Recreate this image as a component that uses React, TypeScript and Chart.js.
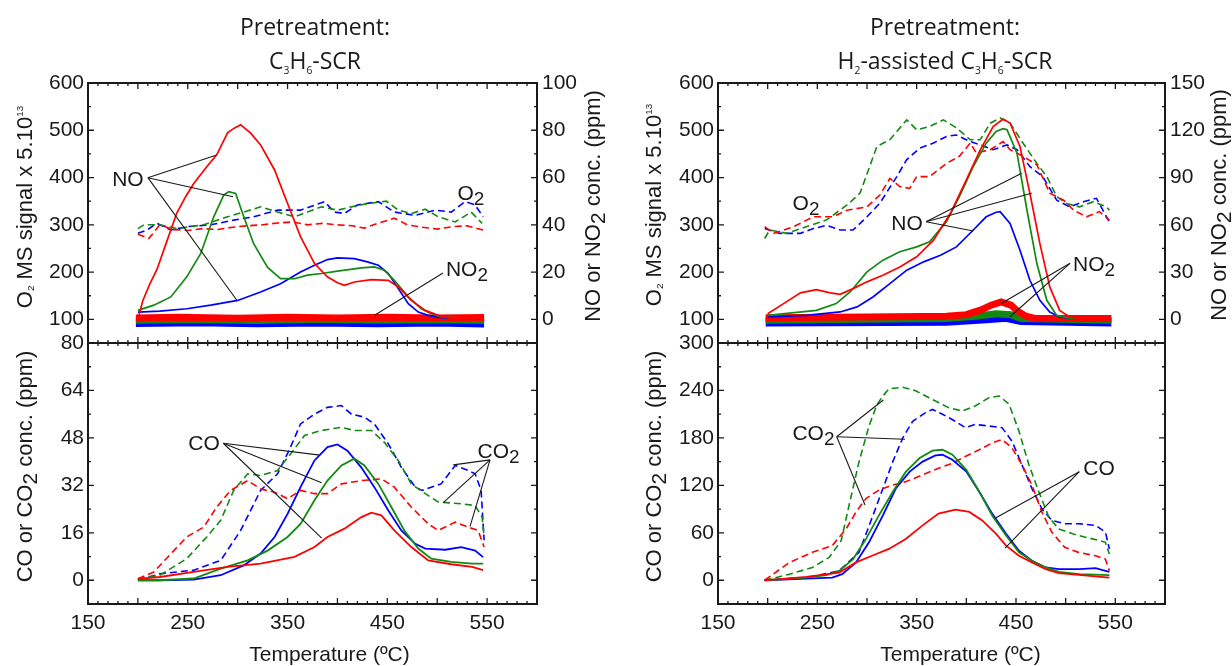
import { useEffect, useRef } from 'react';
import { Chart, registerables } from 'chart.js';

Chart.register(...registerables);

type Pts = [number, number][];
type Seg = [string, number, number];

// ---------------- axes ----------------
const X_MIN = 150;
const X_MAX = 600;
const X_TICKS = [150, 250, 350, 450, 550];
const O2_TICKS = [100, 200, 300, 400, 500, 600];
const A_NOX_TICKS = [0, 20, 40, 60, 80, 100];
const B_NOX_TICKS = [0, 30, 60, 90, 120, 150];
const A_CO_TICKS = [0, 16, 32, 48, 64, 80];
const B_CO_TICKS = [0, 60, 120, 180, 240, 300];

// ---------------- data: C3H6-SCR (left) ----------------
// NO / NO2 in ppm (right axis), O2 MS signal (left axis), temperature in ºC
const A_NO_RED: Pts = [[200,0],[205,8],[212,15],[219,21],[229,33],[239,45],[248,52],[256,57.5],[269,64.6],[279,69.6],[290,79],[297,81],[303,82.3],[313,78.8],[323,73.8],[337,63.2],[350,49],[363,35],[377,23.6],[390,18],[400,15.5],[407,14.4],[417,15.8],[434,16.8],[451,16.5],[461,13.7],[474,8],[488,3.8],[501,1.7],[512,0.5],[546,0.3]];
const A_NO_GREEN: Pts = [[200,3.8],[216,6],[233,9.5],[249,18],[263,27.9],[276,43.4],[286,52.6],[291,54],[298,53.3],[305,44.8],[316,32],[330,22],[343,17.2],[357,17.2],[370,18.7],[384,19.4],[400,20.4],[424,21.8],[437,22.2],[447,20.8],[457,16.5],[471,9.5],[484,4.5],[494,2.4],[505,0.8],[546,0.3]];
const A_NO_BLUE: Pts = [[200,3.1],[222,3.5],[249,4.5],[273,6],[300,8],[323,11.6],[343,15.1],[363,20],[377,22.9],[390,25.3],[400,26],[417,25.7],[430,24.3],[441,22.9],[451,19.4],[461,13],[471,6.6],[481,3.1],[491,1.7],[505,0.6],[546,0.3]];
const A_NO2_RED: Pts = [[198,0.6],[240,0.9],[300,0.5],[350,0.9],[400,0.6],[450,0.9],[500,0.6],[547,0.8]];
const A_NO2_GREEN: Pts = [[198,-0.4],[260,-0.1],[320,-0.5],[380,0],[440,-0.4],[500,-0.2],[547,-0.5]];
const A_NO2_BLUE: Pts = [[198,-1.5],[260,-1.2],[320,-1.6],[380,-1.3],[440,-1.6],[500,-1.3],[547,-1.7]];
const A_O2_RED: Pts = [[200,280],[211,271],[222,300],[235,290],[250,288],[265,292],[280,290],[295,295],[310,298],[325,300],[340,304],[355,306],[370,300],[385,303],[400,300],[415,298],[427,293],[440,303],[457,314],[470,300],[485,295],[500,291],[515,296],[530,298],[540,292],[546,289]];
const A_O2_BLUE: Pts = [[200,282],[209,289],[219,303],[233,289],[249,296],[273,300],[296,310],[316,317],[340,331],[363,331],[387,349],[397,327],[407,324],[420,342],[441,349],[457,327],[478,320],[498,331],[514,327],[528,349],[538,342],[546,317]];
const A_O2_GREEN: Pts = [[200,292],[206,300],[222,300],[239,292],[266,300],[290,317],[306,327],[323,338],[340,327],[357,317],[370,327],[384,338],[400,331],[414,338],[430,345],[449,350],[461,331],[474,324],[488,333],[501,317],[518,306],[534,327],[545,303]];
// CO / CO2 in ppm
const A_CO_RED: Pts = [[200,0.5],[222,1.1],[256,2.8],[290,4.5],[323,5.6],[357,7.9],[377,11.2],[390,14.6],[407,17.4],[424,21.3],[434,22.8],[444,21.9],[457,16.8],[474,11.2],[491,6.7],[514,5.4],[535,4.5],[546,3.4]];
const A_CO_GREEN: Pts = [[200,0],[222,0],[256,0.6],[283,3.9],[310,6.7],[330,10],[350,14.6],[363,19],[377,27],[390,33.6],[404,38.7],[417,41],[427,38.7],[441,32.5],[454,24.7],[467,16.8],[481,10.7],[494,7.3],[514,6.2],[535,5.6],[546,5.6]];
const A_CO_BLUE: Pts = [[200,0],[222,0],[256,0.2],[283,1.7],[306,5],[323,9],[337,14.6],[350,22.4],[363,31.4],[377,40.4],[390,44.9],[400,45.8],[410,43.7],[424,38],[437,31.4],[451,23.5],[464,16.8],[478,12.3],[488,10.7],[508,10.3],[524,11.2],[538,10],[546,7.8]];
const A_CO2_RED: Pts = [[200,0.5],[216,2.8],[236,10],[249,14.6],[266,17.9],[279,24.7],[293,30.3],[310,33.6],[323,30.8],[337,29.7],[350,27.5],[363,30.3],[377,29.2],[390,29.2],[404,32.5],[424,33.6],[444,34.2],[457,31.4],[474,24.7],[491,19],[501,16.8],[518,19.6],[531,17.9],[541,16.8],[547,11.2]];
const A_CO2_GREEN: Pts = [[200,0.5],[222,1.7],[249,7.3],[269,14.6],[283,20.2],[296,30.3],[310,35.9],[323,35.3],[340,37],[353,42.6],[367,48.8],[384,50.5],[404,51.6],[417,50.5],[434,50.5],[447,46.5],[461,40.4],[474,32.5],[488,29.2],[501,26.4],[524,25.8],[538,25.2],[545,21.3],[547,14.6]];
const A_CO2_BLUE: Pts = [[200,0],[222,2.2],[256,3.4],[283,6.7],[303,16.8],[323,30.3],[340,35.9],[353,44.9],[363,52.7],[377,56],[390,58.3],[404,58.9],[414,56],[427,55],[437,52.7],[451,46],[464,38.1],[478,31.4],[485,30.3],[494,31.4],[504,32.5],[518,38.7],[531,37],[538,35.9],[544,30.3],[547,13.5]];

// ---------------- data: H2-assisted C3H6-SCR (right) ----------------
const B_NO_RED: Pts = [[200,3.6],[216,10],[233,16.8],[249,18.9],[263,16.8],[273,15.9],[286,19.5],[300,23.8],[316,28],[333,33.3],[350,39.7],[367,50.3],[384,67.3],[400,88.5],[414,107.6],[427,122.4],[437,127.1],[444,124.6],[454,109.7],[464,80],[474,48.2],[484,20.6],[494,5.7],[504,1.5],[515,0.5],[545,0.3]];
const B_NO_GREEN: Pts = [[200,2.5],[222,4],[249,5.7],[269,10],[283,17.4],[300,30.1],[316,37.6],[333,42.9],[350,46],[363,49.2],[380,62],[393,77.9],[407,97],[420,111.8],[430,119.3],[437,121],[441,120.3],[451,105.5],[461,69.4],[471,35.4],[481,12.1],[491,2.5],[505,0.5],[545,0.3]];
const B_NO_BLUE: Pts = [[200,1.5],[239,2.5],[273,4.7],[290,7.9],[306,14.2],[323,22.7],[340,31.2],[357,36.5],[374,40.7],[390,46],[407,56.7],[420,65.1],[430,68],[434,68.3],[444,60.9],[454,43.9],[464,24.8],[474,12.1],[484,4.7],[494,1.5],[505,0.4],[545,0.3]];
const B_NO2_RED: Pts = [[198,1],[300,1.5],[380,2],[400,3],[415,6],[425,9],[435,11],[445,9],[452,5],[460,2],[470,0.5],[546,0.5]];
const B_NO2_GREEN: Pts = [[198,-0.5],[380,0.5],[410,2],[430,3.5],[445,3],[455,0.5],[546,-0.5]];
const B_NO2_BLUE: Pts = [[198,-2],[380,-1.5],[420,0],[440,1],[455,-1],[546,-2]];
const B_O2_RED: Pts = [[197,296],[206,282],[226,296],[246,317],[266,317],[280,331],[300,338],[313,363],[323,398],[333,381],[343,377],[350,402],[363,402],[380,430],[393,445],[404,473],[410,452],[424,459],[437,476],[444,459],[457,445],[471,427],[484,367],[498,352],[508,331],[521,317],[534,328],[544,310]];
const B_O2_GREEN: Pts = [[197,271],[202,289],[219,282],[239,296],[259,310],[280,342],[293,367],[310,466],[323,480],[340,522],[350,501],[363,508],[377,522],[390,505],[404,480],[414,480],[424,515],[434,526],[444,515],[457,473],[471,430],[481,402],[491,360],[501,345],[514,338],[528,349],[541,338],[544,331]];
const B_O2_BLUE: Pts = [[197,292],[212,282],[233,282],[246,292],[259,299],[273,289],[286,289],[300,317],[313,346],[330,402],[340,438],[353,462],[367,473],[380,487],[390,490],[404,476],[414,469],[427,459],[441,469],[451,459],[464,423],[477,402],[491,352],[504,338],[518,349],[531,356],[544,306]];
const B_CO_RED: Pts = [[197,0],[239,4.3],[272,9.8],[289,22.6],[305,31],[322,39.6],[339,52.3],[356,69.4],[372,84.3],[389,89.4],[403,86.4],[416,75.7],[430,58.7],[440,43.8],[453,31],[466,22.6],[480,14],[493,8.9],[516,6.4],[544,3.4]];
const B_CO_GREEN: Pts = [[197,0],[239,3.4],[259,6.4],[272,11.9],[286,26.8],[299,52.3],[312,82],[326,112],[339,137],[353,154.5],[366,163.8],[376,165],[386,158.7],[400,139.6],[413,112],[426,82],[440,56.6],[453,35.3],[466,24.7],[480,16.2],[493,10.6],[514,7.7],[544,6.4]];
const B_CO_BLUE: Pts = [[197,0],[239,2.1],[265,3.4],[275,7.7],[289,22.6],[302,48],[316,82],[329,116],[343,137.4],[356,150],[369,157.9],[376,158.7],[386,152.3],[400,137.4],[413,112],[426,84.3],[440,58.7],[453,37.4],[466,24.7],[480,16.2],[493,14],[514,14],[530,15.3],[544,10.6]];
const B_CO2_RED: Pts = [[197,0],[222,22.6],[245,35.3],[265,43.8],[279,65],[289,86.4],[299,103.4],[312,114],[326,120.4],[339,124.7],[356,133.2],[372,141.7],[386,148],[399,156.6],[413,165],[426,173.6],[436,177.9],[446,167.2],[456,146],[466,120.4],[476,86.4],[486,60.9],[499,41.7],[513,35.3],[530,31],[540,26.8],[544,11.9]];
const B_CO2_GREEN: Pts = [[197,0],[222,7.7],[245,16.2],[262,29],[274,50],[282,95],[292,150],[302,195],[310,222],[316,233],[322,242],[336,244],[349,239.6],[362,231],[372,224.7],[382,218.3],[396,214],[409,220.4],[423,231],[433,233],[443,222.6],[453,188.5],[463,146],[473,112],[483,80],[493,65],[507,58.7],[520,54.5],[534,50.2],[540,48],[544,33.2]];
const B_CO2_BLUE: Pts = [[197,0],[239,3.4],[272,11.9],[292,35.3],[306,82],[316,116],[326,150],[336,180],[346,201],[359,212],[366,216],[376,210],[389,201],[399,193],[409,197],[423,195],[436,193],[446,175.7],[456,146],[466,116],[476,90.6],[486,75.7],[499,71.5],[513,71.5],[530,69.4],[540,60.9],[544,39.6]];

// ---------------- text ----------------
const TITLE_1: Seg[] = [['Pretreatment:', 1, 0]];
const TITLE_A2: Seg[] = [['C', 1, 0], ['3', 0.45, 0.2], ['H', 1, 0], ['6', 0.45, 0.2], ['-SCR', 1, 0]];
const TITLE_B2: Seg[] = [['H', 1, 0], ['2', 0.45, 0.2], ['-assisted C', 1, 0], ['3', 0.45, 0.2], ['H', 1, 0], ['6', 0.45, 0.2], ['-SCR', 1, 0]];
const O2_AXIS: Seg[] = [['O', 1, 0], ['2', 0.45, 0.1], [' MS signal x 5.10', 1, 0], ['13', 0.45, -0.4]];
const NOX_AXIS: Seg[] = [['NO or NO', 1, 0], ['2', 0.95, 0.25], [' conc. (ppm)', 1, 0]];
const CO_AXIS: Seg[] = [['CO or CO', 1, 0], ['2', 0.95, 0.25], [' conc. (ppm)', 1, 0]];
const X_TITLE: Seg[] = [['Temperature (ºC)', 1, 0]];
const L_NO: Seg[] = [['NO', 1, 0]];
const L_NO2: Seg[] = [['NO', 1, 0], ['2', 0.9, 0.25]];
const L_O2: Seg[] = [['O', 1, 0], ['2', 0.9, 0.25]];
const L_CO: Seg[] = [['CO', 1, 0]];
const L_CO2: Seg[] = [['CO', 1, 0], ['2', 0.9, 0.25]];

interface Note { label: Seg[]; at: [number, number]; from?: [number, number]; to?: Pts }
// annotation positions in data units (temperature, left-axis value)
const A_TOP_NOTES: Note[] = [
  { label: L_NO, at: [190, 399], from: [210, 399.7], to: [[279, 447.7], [295.3, 359.5], [299, 140.9]] },
  { label: L_NO2, at: [529.8, 208.6], from: [505.8, 198], to: [[437.6, 109.2]] },
  { label: L_O2, at: [533.8, 369.4] },
];
const A_BOT_NOTES: Note[] = [
  { label: L_CO, at: [266.3, 46.6], from: [285.6, 46.2], to: [[382.5, 42.2], [384.2, 32.9], [384.2, 14.2]] },
  { label: L_CO2, at: [561.4, 43.9], from: [552.9, 40.6], to: [[516.1, 38.9], [506.1, 26.2], [532.8, 18.1]] },
];
const B_TOP_NOTES: Note[] = [
  { label: L_O2, at: [238.6, 348.3] },
  { label: L_NO, at: [340.3, 305.9], from: [359.4, 306.6], to: [[455.7, 409], [465.8, 366.7], [407, 286.9]] },
  { label: L_NO2, at: [528.5, 219.2], from: [504.4, 218.6], to: [[435.6, 134], [444, 105.6]] },
];
const B_BOT_NOTES: Note[] = [
  { label: L_CO2, at: [246.1, 187.5], from: [269.5, 181.5], to: [[316.4, 227.9], [338.3, 178.3], [298, 95.2]] },
  { label: L_CO, at: [533.6, 143.2], from: [513.7, 137.3], to: [[428.9, 78.4], [439, 40.5]] },
];

// ---------------- styles ----------------
const RED = '#ff0000';
const GREEN = '#128a12';
const BLUE = '#0000ff';
const INK = '#1a1a1a';
const SANS = '"Liberation Sans", Arial, sans-serif';
const TITLE_FONT = '"Open Sans", "Noto Sans", sans-serif';

interface Series { data: Pts; color: string; dash?: boolean; axis?: 'y' | 'y2'; width?: number }
interface AxisCfg { min: number; max: number; ticks: number[]; minor: number; width: number }
interface TextCfg { segs: Seg[]; x: (a: any) => number; y: (a: any) => number; size: number; family: string; rot?: number }
interface PanelCfg {
  left: number; top: number; w: number; h: number;
  pad: { left: number; right: number; top: number; bottom: number };
  showX: boolean; xH: number;
  yL: AxisCfg; yR?: AxisCfg;
  series: Series[]; notes: Note[]; texts: TextCfg[];
}

const cx = (a: any) => (a.left + a.right) / 2;
const cy = (a: any) => (a.top + a.bottom) / 2;
const ROT = -Math.PI / 2;

function noxSeries(no: Pts[], no2: Pts[], o2: Pts[]): Series[] {
  const cols = [RED, GREEN, BLUE];
  const w2 = [7, 7, 8];
  return [
    ...no.map((d, i) => ({ data: d, color: cols[i], axis: 'y2' as const, width: 1.7 })),
    ...no2.map((d, i) => ({ data: d, color: cols[i], axis: 'y2' as const, width: w2[i] })),
    ...o2.map((d, i) => ({ data: d, color: cols[i], dash: true, width: 1.6 })),
  ];
}
function coSeries(co: Pts[], co2: Pts[]): Series[] {
  const cols = [RED, GREEN, BLUE];
  return [
    ...co.map((d, i) => ({ data: d, color: cols[i], width: 1.8 })),
    ...co2.map((d, i) => ({ data: d, color: cols[i], dash: true, width: 1.6 })),
  ];
}

const PANELS: PanelCfg[] = [
  {
    left: 0, top: 0, w: 620, h: 363, pad: { left: 0, right: 0, top: 83, bottom: 20 }, showX: false, xH: 0,
    yL: { min: 50, max: 600, ticks: O2_TICKS, minor: 50, width: 88 },
    yR: { min: -10, max: 100, ticks: A_NOX_TICKS, minor: 10, width: 83 },
    series: noxSeries([A_NO_RED, A_NO_GREEN, A_NO_BLUE], [A_NO2_RED, A_NO2_GREEN, A_NO2_BLUE], [A_O2_RED, A_O2_GREEN, A_O2_BLUE]),
    notes: A_TOP_NOTES,
    texts: [
      { segs: TITLE_1, x: (a) => cx(a) + 2.5, y: (a) => a.top - 56.3, size: 23, family: TITLE_FONT },
      { segs: TITLE_A2, x: (a) => cx(a) + 2.5, y: (a) => a.top - 22.3, size: 23, family: TITLE_FONT },
      { segs: O2_AXIS, x: (a) => a.left - 64, y: (a) => cy(a) - 6, size: 22, family: SANS, rot: ROT },
      { segs: NOX_AXIS, x: (a) => a.right + 55, y: (a) => cy(a) - 7, size: 22, family: SANS, rot: ROT },
    ],
  },
  {
    left: 0, top: 323, w: 620, h: 343, pad: { left: 0, right: 83, top: 20, bottom: 0 }, showX: true, xH: 62,
    yL: { min: -8, max: 80, ticks: A_CO_TICKS, minor: 8, width: 88 },
    series: coSeries([A_CO_RED, A_CO_GREEN, A_CO_BLUE], [A_CO2_RED, A_CO2_GREEN, A_CO2_BLUE]),
    notes: A_BOT_NOTES,
    texts: [
      { segs: CO_AXIS, x: (a) => a.left - 64, y: (a) => cy(a) - 7, size: 22, family: SANS, rot: ROT },
      { segs: X_TITLE, x: (a) => cx(a) + 17, y: (a) => a.bottom + 49.4, size: 21, family: SANS },
    ],
  },
  {
    left: 620, top: 0, w: 612, h: 363, pad: { left: 0, right: 0, top: 83, bottom: 20 }, showX: false, xH: 0,
    yL: { min: 50, max: 600, ticks: O2_TICKS, minor: 50, width: 98 },
    yR: { min: -15, max: 150, ticks: B_NOX_TICKS, minor: 15, width: 67 },
    series: noxSeries([B_NO_RED, B_NO_GREEN, B_NO_BLUE], [B_NO2_RED, B_NO2_GREEN, B_NO2_BLUE], [B_O2_RED, B_O2_GREEN, B_O2_BLUE]),
    notes: B_TOP_NOTES,
    texts: [
      { segs: TITLE_1, x: (a) => cx(a) + 3.5, y: (a) => a.top - 56.3, size: 23, family: TITLE_FONT },
      { segs: TITLE_B2, x: (a) => cx(a) + 3.5, y: (a) => a.top - 22.3, size: 23, family: TITLE_FONT },
      { segs: O2_AXIS, x: (a) => a.left - 65, y: (a) => cy(a) - 8, size: 22, family: SANS, rot: ROT },
      { segs: NOX_AXIS, x: (a) => a.right + 53, y: (a) => cy(a) - 8, size: 22, family: SANS, rot: ROT },
    ],
  },
  {
    left: 620, top: 323, w: 612, h: 343, pad: { left: 0, right: 67, top: 20, bottom: 0 }, showX: true, xH: 62,
    yL: { min: -30, max: 300, ticks: B_CO_TICKS, minor: 30, width: 98 },
    series: coSeries([B_CO_RED, B_CO_GREEN, B_CO_BLUE], [B_CO2_RED, B_CO2_GREEN, B_CO2_BLUE]),
    notes: B_BOT_NOTES,
    texts: [
      { segs: CO_AXIS, x: (a) => a.left - 65, y: (a) => cy(a) - 7, size: 22, family: SANS, rot: ROT },
      { segs: X_TITLE, x: (a) => cx(a) + 19, y: (a) => a.bottom + 49.4, size: 21, family: SANS },
    ],
  },
];

function drawRich(ctx: CanvasRenderingContext2D, segs: Seg[], x: number, y: number, size: number, family: string, rot = 0) {
  ctx.save();
  ctx.translate(x, y);
  if (rot) ctx.rotate(rot);
  ctx.textAlign = 'left';
  ctx.textBaseline = 'alphabetic';
  ctx.fillStyle = INK;
  const widths = segs.map(([t, s]) => {
    ctx.font = `${size * s}px ${family}`;
    return ctx.measureText(t).width;
  });
  const total = widths.reduce((p, c) => p + c, 0);
  let px = -total / 2;
  const base = size * 0.36;
  segs.forEach(([t, s, d], i) => {
    ctx.font = `${size * s}px ${family}`;
    ctx.fillText(t, px, base + d * size);
    px += widths[i];
  });
  ctx.restore();
}

function yTickMarks(ctx: CanvasRenderingContext2D, s: any, c: AxisCfg, x0: number, dir: number) {
  const major = c.ticks[1] - c.ticks[0];
  for (let v = Math.ceil(c.min / c.minor) * c.minor; v <= c.max + 1e-9; v += c.minor) {
    const y = s.getPixelForValue(v);
    const r = Math.abs(v % major);
    const len = r < 1e-6 || Math.abs(r - major) < 1e-6 ? 6 : 3;
    ctx.moveTo(x0, y);
    ctx.lineTo(x0 + dir * len, y);
  }
}

function decor(p: PanelCfg) {
  return {
    id: 'decor',
    afterDatasetsDraw(chart: any) {
      const ctx: CanvasRenderingContext2D = chart.ctx;
      const a = chart.chartArea;
      const sx = chart.scales.x;
      const sy = chart.scales.y;
      const sr = chart.scales.y2;
      ctx.save();
      ctx.strokeStyle = INK;
      ctx.lineWidth = 1.1;
      for (const n of p.notes) {
        if (n.from && n.to) {
          for (const t of n.to) {
            ctx.beginPath();
            ctx.moveTo(sx.getPixelForValue(n.from[0]), sy.getPixelForValue(n.from[1]));
            ctx.lineTo(sx.getPixelForValue(t[0]), sy.getPixelForValue(t[1]));
            ctx.stroke();
          }
        }
        drawRich(ctx, n.label, sx.getPixelForValue(n.at[0]), sy.getPixelForValue(n.at[1]), 21, SANS);
      }
      ctx.lineWidth = 2;
      ctx.strokeRect(a.left, a.top, a.right - a.left, a.bottom - a.top);
      ctx.lineWidth = 1.3;
      ctx.beginPath();
      for (let v = X_MIN; v <= X_MAX; v += 10) {
        const x = sx.getPixelForValue(v);
        const len = v % 50 === 0 ? 6 : 3;
        ctx.moveTo(x, a.top);
        ctx.lineTo(x, a.top + len);
        ctx.moveTo(x, a.bottom);
        ctx.lineTo(x, a.bottom - len);
      }
      yTickMarks(ctx, sy, p.yL, a.left, 1);
      if (sr && p.yR) yTickMarks(ctx, sr, p.yR, a.right, -1);
      else yTickMarks(ctx, sy, p.yL, a.right, -1);
      ctx.stroke();
      for (const t of p.texts) drawRich(ctx, t.segs, t.x(a), t.y(a), t.size, t.family, t.rot ?? 0);
      ctx.restore();
    },
  };
}

function yAxis(c: AxisCfg, position: 'left' | 'right') {
  return {
    type: 'linear',
    position,
    min: c.min,
    max: c.max,
    grid: { display: false, drawTicks: false },
    border: { display: false },
    afterBuildTicks: (s: any) => { s.ticks = c.ticks.map((v) => ({ value: v })); },
    afterFit: (s: any) => { s.width = c.width; },
    ticks: { font: { family: SANS, size: 21 }, color: INK, padding: position === 'left' ? 4 : 5 },
  };
}

function build(canvas: HTMLCanvasElement, p: PanelCfg) {
  const scales: any = {
    x: {
      type: 'linear',
      min: X_MIN,
      max: X_MAX,
      display: p.showX,
      grid: { display: false, drawTicks: false },
      border: { display: false },
      afterBuildTicks: (s: any) => { s.ticks = X_TICKS.map((v) => ({ value: v })); },
      afterFit: (s: any) => { s.height = p.xH; },
      ticks: { font: { family: SANS, size: 21 }, color: INK, padding: 7, maxRotation: 0, autoSkip: false },
    },
    y: yAxis(p.yL, 'left'),
  };
  if (p.yR) scales.y2 = yAxis(p.yR, 'right');
  return new Chart(canvas, {
    type: 'line',
    data: {
      datasets: p.series.map((s) => ({
        data: s.data.map(([x, y]) => ({ x, y })),
        borderColor: s.color,
        backgroundColor: s.color,
        borderWidth: s.width ?? 1.7,
        borderDash: s.dash ? [7, 4] : [],
        pointRadius: 0,
        fill: false,
        tension: 0,
        yAxisID: s.axis ?? 'y',
      })),
    },
    options: {
      responsive: false,
      animation: false,
      devicePixelRatio: 1,
      layout: { padding: p.pad },
      scales,
      plugins: { legend: { display: false }, tooltip: { enabled: false } },
    } as any,
    plugins: [decor(p)],
  });
}

export default function App() {
  const r0 = useRef<HTMLCanvasElement>(null);
  const r1 = useRef<HTMLCanvasElement>(null);
  const r2 = useRef<HTMLCanvasElement>(null);
  const r3 = useRef<HTMLCanvasElement>(null);
  const refs = [r0, r1, r2, r3];
  useEffect(() => {
    const charts = PANELS.map((p, i) => build(refs[i].current as HTMLCanvasElement, p));
    return () => charts.forEach((c) => c.destroy());
  }, []);
  return (
    <div style={{ position: 'absolute', left: 0, top: 0, width: 1232, height: 666, background: '#fff', overflow: 'hidden' }}>
      {PANELS.map((p, i) => (
        <canvas key={i} ref={refs[i]} width={p.w} height={p.h}
          style={{ position: 'absolute', left: p.left, top: p.top, width: p.w, height: p.h }} />
      ))}
    </div>
  );
}
